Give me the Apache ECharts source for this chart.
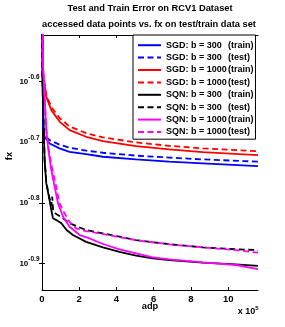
<!DOCTYPE html>
<html><head><meta charset="utf-8">
<script src="https://cdn.jsdelivr.net/npm/echarts@6/dist/echarts.min.js"></script>
<style>html,body{margin:0;padding:0;background:#fff}#c{width:285px;height:327px}</style>
</head><body><div id="c"></div>
<script>
// adp values are in units of 1e5 (axis shows "x 10^5")
const seriesNames = ['SGD: b = 300 (train)','SGD: b = 300 (test)','SGD: b = 1000 (train)','SGD: b = 1000 (test)',
  'SQN: b = 300 (train)','SQN: b = 300 (test)','SQN: b = 1000 (train)','SQN: b = 1000 (test)'];
const sgd300TrainAdp = [0,0.05,0.14,0.41,0.94,1.48,2.37,3.27,5.05,6.82,8.63,11.6];
const sgd300TrainFx  = [0.6931,0.2115,0.2037,0.1986,0.1949,0.1924,0.1907,0.1888,0.1869,0.1853,0.1841,0.1822];
const sgd300TestAdp  = [0,0.05,0.14,0.41,0.94,1.48,2.37,3.27,5.05,6.82,8.63,11.6];
const sgd300TestFx   = [0.6931,0.2118,0.2051,0.2011,0.1977,0.1954,0.1932,0.1917,0.1896,0.1882,0.1869,0.1853];
const sgd1000TrainAdp = [0,0.05,0.23,0.5,0.94,1.48,2.37,3.27,5.05,6.82,8.63,11.6];
const sgd1000TrainFx  = [0.6931,0.2591,0.2371,0.2254,0.2158,0.2089,0.2037,0.2004,0.1966,0.1941,0.1922,0.1899];
const sgd1000TestAdp  = [0,0.05,0.23,0.5,0.94,1.48,2.37,3.27,5.05,6.82,8.63,11.6];
const sgd1000TestFx   = [0.6931,0.2595,0.2388,0.2281,0.2188,0.2118,0.2065,0.2032,0.1994,0.1968,0.1949,0.1928];
const sqn300TrainAdp = [0,0.02,0.14,0.23,0.37,0.5,0.59,0.77,1.04,1.32,1.66,2.37,3.27,4.16,5.05,5.95,6.84,8.63,10.41,11.6];
const sqn300TrainFx  = [0.6931,0.2555,0.1864,0.1706,0.1622,0.1542,0.1494,0.1484,0.1466,0.1429,0.1402,0.1366,0.1338,0.1315,0.1296,0.1283,0.1275,0.1262,0.1254,0.1247];
const sqn300TestAdp  = [0,0.02,0.14,0.23,0.37,0.5,0.55,0.6,0.68,1.13,1.48,2.37,3.27,4.16,5.05,6.84,8.63,10.41,11.6];
const sqn300TestFx   = [0.6931,0.2555,0.1871,0.1714,0.1629,0.1567,0.1622,0.1531,0.1522,0.1494,0.1466,0.1429,0.1411,0.1393,0.1375,0.1354,0.1338,0.1328,0.1324];
const sqn1000TrainAdp = [0,0.05,0.14,0.23,0.34,0.5,0.68,0.86,1.13,1.48,2.02,2.55,3.27,4.16,5.05,5.95,6.84,8.63,10.41,11.6];
const sqn1000TrainFx  = [0.6931,0.2692,0.2371,0.2089,0.1936,0.1795,0.1684,0.1581,0.1503,0.1447,0.1402,0.1384,0.1355,0.1328,0.1308,0.1288,0.1278,0.1264,0.1251,0.1232];
const sqn1000TestAdp  = [0,0.05,0.14,0.23,0.34,0.5,0.76,0.94,1.21,1.48,1.84,2.37,3.27,5.05,6.84,8.63,10.41,11.6];
const sqn1000TestFx   = [0.6931,0.2692,0.2371,0.2099,0.1959,0.1832,0.1684,0.1581,0.1522,0.1474,0.1438,0.1423,0.1407,0.1375,0.1353,0.1338,0.1324,0.1311];
const xTickLabels = [0,2,4,6,8,10];
const yTickExponents = [-0.9,-0.8,-0.7,-0.6];

const adpList = [sgd300TrainAdp,sgd300TestAdp,sgd1000TrainAdp,sgd1000TestAdp,sqn300TrainAdp,sqn300TestAdp,sqn1000TrainAdp,sqn1000TestAdp];
const fxList = [sgd300TrainFx,sgd300TestFx,sgd1000TrainFx,sgd1000TestFx,sqn300TrainFx,sqn300TestFx,sqn1000TrainFx,sqn1000TestFx];
const colors = ['#0000ff','#0000ff','#ff0000','#ff0000','#000000','#000000','#ff00ff','#ff00ff'];
const FONT = 'Liberation Sans, Arial, Helvetica, sans-serif';

const series = seriesNames.map((n, i) => ({
  name: n, type: 'line', symbol: 'none', smooth: false, clip: true,
  xAxisIndex: 0, yAxisIndex: 0,
  data: adpList[i].map((x, j) => [x, Math.log10(fxList[i][j])]),
  lineStyle: { color: colors[i], width: 1.8, type: (i % 2 === 1) ? [6, 3.5] : 'solid' },
  itemStyle: { color: colors[i] },
  emphasis: { disabled: true }
}));

const yMin = -0.944, yMax = -0.523, xMin = 0, xMax = 11.6;
const axisCommon = { lineStyle: { color: '#000', width: 1 } };

const chart = echarts.init(document.getElementById('c'), null, { renderer: 'canvas' });
chart.setOption({
  animation: false,
  backgroundColor: '#fff',
  grid: { left: 42, right: 27, top: 35, bottom: 37, containLabel: false },
  xAxis: [
    { type: 'value', min: xMin, max: xMax, position: 'bottom',
      axisLine: axisCommon, splitLine: { show: false },
      axisTick: { inside: true, length: 3, customValues: xTickLabels.slice(1), lineStyle: { color: '#000' } },
      axisLabel: { customValues: xTickLabels, margin: 4, color: '#000', fontSize: 9.5, fontWeight: 'bold', fontFamily: FONT,
        formatter: v => String(v) } },
    { type: 'value', min: xMin, max: xMax, position: 'top',
      axisLine: axisCommon, splitLine: { show: false },
      axisTick: { inside: true, length: 3, customValues: xTickLabels.slice(1), lineStyle: { color: '#000' } },
      axisLabel: { show: false } }
  ],
  yAxis: [
    { type: 'value', min: yMin, max: yMax, position: 'left',
      axisLine: { show: true, lineStyle: { color: '#000', width: 1 } }, splitLine: { show: false },
      axisTick: { show: true, inside: true, length: 3, customValues: yTickExponents, lineStyle: { color: '#000' } },
      axisLabel: { customValues: yTickExponents, margin: 2.5, color: '#000', fontFamily: FONT,
        formatter: v => '{b|10}{s|' + v.toFixed(1) + '}',
        rich: {
          b: { fontSize: 8, fontWeight: 'bold', fontFamily: FONT, color: '#000', lineHeight: 9, verticalAlign: 'middle' },
          s: { fontSize: 6.5, fontWeight: 'bold', fontFamily: FONT, color: '#000', lineHeight: 7, padding: [0, 0, 9, 0], verticalAlign: 'middle' }
        } } },
    { type: 'value', min: yMin, max: yMax, position: 'right',
      axisLine: { show: true, lineStyle: { color: '#000', width: 1 } }, splitLine: { show: false },
      axisTick: { show: true, inside: true, length: 3, customValues: yTickExponents, lineStyle: { color: '#000' } },
      axisLabel: { show: false } }
  ],
  legend: {
    data: seriesNames, orient: 'vertical', left: 133, top: 35,
    padding: [4, 2, 1, 4], itemGap: 0, itemWidth: 23, itemHeight: 12.4,
    backgroundColor: '#fff', borderColor: '#000', borderWidth: 1, borderRadius: 0,
    selectedMode: false,
    itemStyle: { opacity: 0 },
    textStyle: { fontSize: 9, fontWeight: 'bold', fontFamily: FONT, color: '#000', lineHeight: 12.4,
      rich: {
        a: { width: 62, fontSize: 9, fontWeight: 'bold', fontFamily: FONT, color: '#000', lineHeight: 12.4 },
        b: { fontSize: 9, fontWeight: 'bold', fontFamily: FONT, color: '#000', lineHeight: 12.4 }
      } },
    formatter: name => { const k = name.indexOf(' ('); return '{a|' + name.slice(0, k) + '}{b|' + name.slice(k + 1) + '}'; }
  },
  graphic: [
    { type: 'text', x: 150, y: 8, style: { text: 'Test and Train Error on RCV1 Dataset', fill: '#000', font: 'bold 9.3px ' + FONT, textAlign: 'center', textVerticalAlign: 'middle' } },
    { type: 'text', x: 149, y: 24, style: { text: 'accessed data points vs. fx on test/train data set', fill: '#000', font: 'bold 9.3px ' + FONT, textAlign: 'center', textVerticalAlign: 'middle' } },
    { type: 'text', x: 150, y: 306, style: { text: 'adp', fill: '#000', font: 'bold 9.3px ' + FONT, textAlign: 'center', textVerticalAlign: 'middle' } },
    { type: 'text', x: 9, y: 156, rotation: Math.PI / 2, style: { text: 'fx', fill: '#000', font: 'bold 9.3px ' + FONT, textAlign: 'center', textVerticalAlign: 'middle' } },
    { type: 'text', x: 258.5, y: 312, style: { text: '{b|x 10}{s|5}', textAlign: 'right', textVerticalAlign: 'middle',
        rich: {
          b: { fontSize: 9, fontWeight: 'bold', fontFamily: FONT, fill: '#000', lineHeight: 9, verticalAlign: 'middle' },
          s: { fontSize: 6, fontWeight: 'bold', fontFamily: FONT, fill: '#000', lineHeight: 6, padding: [0, 0, 7, 0], verticalAlign: 'middle' }
        } } }
  ],
  series: series
});
</script>
</body></html>
